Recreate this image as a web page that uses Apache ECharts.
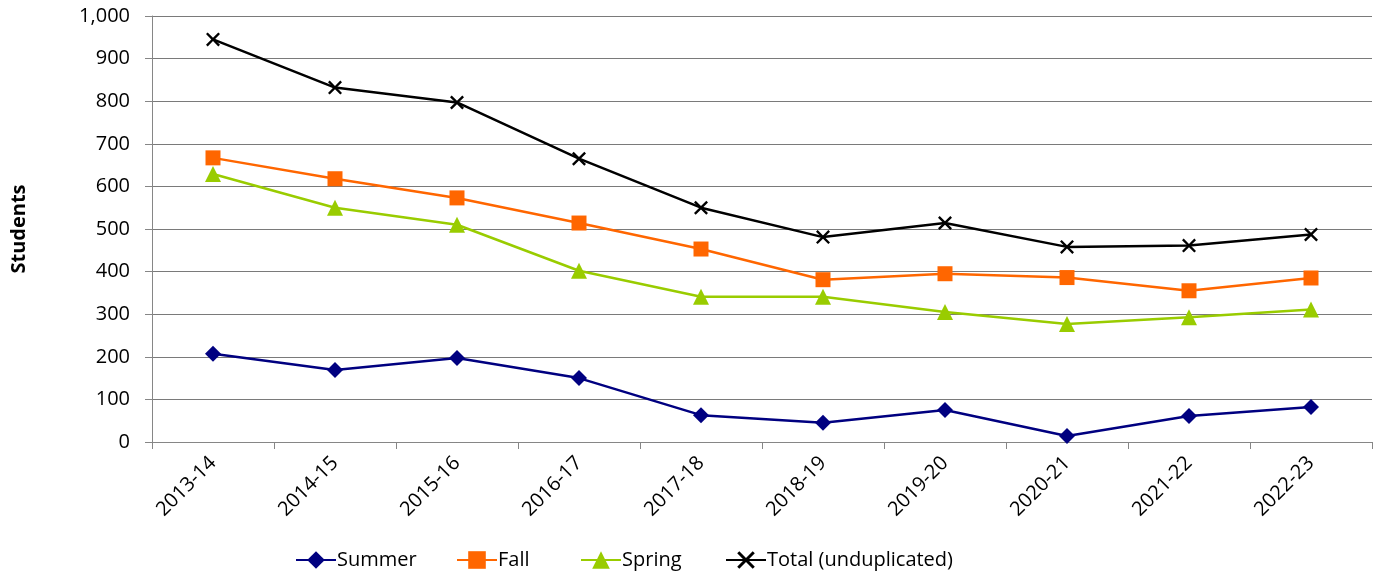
<!DOCTYPE html>
<html><head><meta charset="utf-8">
<script src="https://cdn.jsdelivr.net/npm/echarts@6/dist/echarts.min.js"></script>
<style>html,body{margin:0;padding:0;background:#fff}#c{width:1378px;height:573px}</style>
</head><body><div id="c"></div>
<script>
const categories = ['2013-14','2014-15','2015-16','2016-17','2017-18','2018-19','2019-20','2020-21','2021-22','2022-23'];
const summer = [207,169,197,150,63,45,75,14,61,82];
const fall = [667,618,573,514,453,381,395,386,355,385];
const spring = [629,550,510,402,341,341,305,277,293,311];
const total = [945,832,797,665,550,481,514,458,461,487];
const yTicks = {min:0, max:1000, interval:100};

const FONT = 'Open Sans';
const xSym = 'path://M0,1.2L1.2,0L5,3.8L8.8,0L10,1.2L6.2,5L10,8.8L8.8,10L5,6.2L1.2,10L0,8.8L3.8,5Z';
const chart = echarts.init(document.getElementById('c'), null, {renderer:'canvas'});
function mkLegend(name, left){
  return {data:[name], left:left, top:545, itemWidth:40, itemHeight:22, itemGap:4,
    textStyle:{fontFamily:FONT, fontSize:20, color:'#000', padding:[0,0,0,-4]}, selectedMode:false};
}
chart.setOption({
  animation:false,
  grid:{left:152, right:6, top:16, bottom:131, containLabel:false},
  legend:[mkLegend('Summer',290), mkLegend('Fall',451), mkLegend('Spring',575), mkLegend('Total (unduplicated)',720)],
  xAxis:{type:'category', data:categories, boundaryGap:true,
    axisLine:{lineStyle:{color:'#868686', width:1}},
    axisTick:{show:true, length:7, lineStyle:{color:'#868686'}},
    axisLabel:{rotate:45, fontFamily:FONT, fontSize:20, color:'#000', margin:18}},
  yAxis:{type:'value', min:yTicks.min, max:yTicks.max, interval:yTicks.interval,
    name:'Students', nameLocation:'middle', nameGap:123,
    nameTextStyle:{fontFamily:FONT, fontSize:20, fontWeight:'bold', color:'#000'},
    axisLine:{show:true, lineStyle:{color:'#868686'}},
    axisTick:{show:true, length:7, lineStyle:{color:'#868686'}},
    splitLine:{lineStyle:{color:'#7a7a7a', width:1}},
    axisLabel:{fontFamily:FONT, fontSize:20, color:'#000', margin:22,
      formatter:v=>v.toLocaleString('en-US')}},
  series:[
    {name:'Summer', type:'line', data:summer, symbol:'diamond', symbolSize:16,
      lineStyle:{color:'#000080', width:2.5}, itemStyle:{color:'#000080'}},
    {name:'Fall', type:'line', data:fall, symbol:'rect', symbolSize:15,
      lineStyle:{color:'#FF6600', width:2.5}, itemStyle:{color:'#FF6600'}},
    {name:'Spring', type:'line', data:spring, symbol:'triangle', symbolSize:16,
      lineStyle:{color:'#99CC00', width:2.5}, itemStyle:{color:'#99CC00'}},
    {name:'Total (unduplicated)', type:'line', data:total, symbol:xSym, symbolSize:14,
      lineStyle:{color:'#000000', width:2.5}, itemStyle:{color:'#000000'}}
  ]
});
</script></body></html>
